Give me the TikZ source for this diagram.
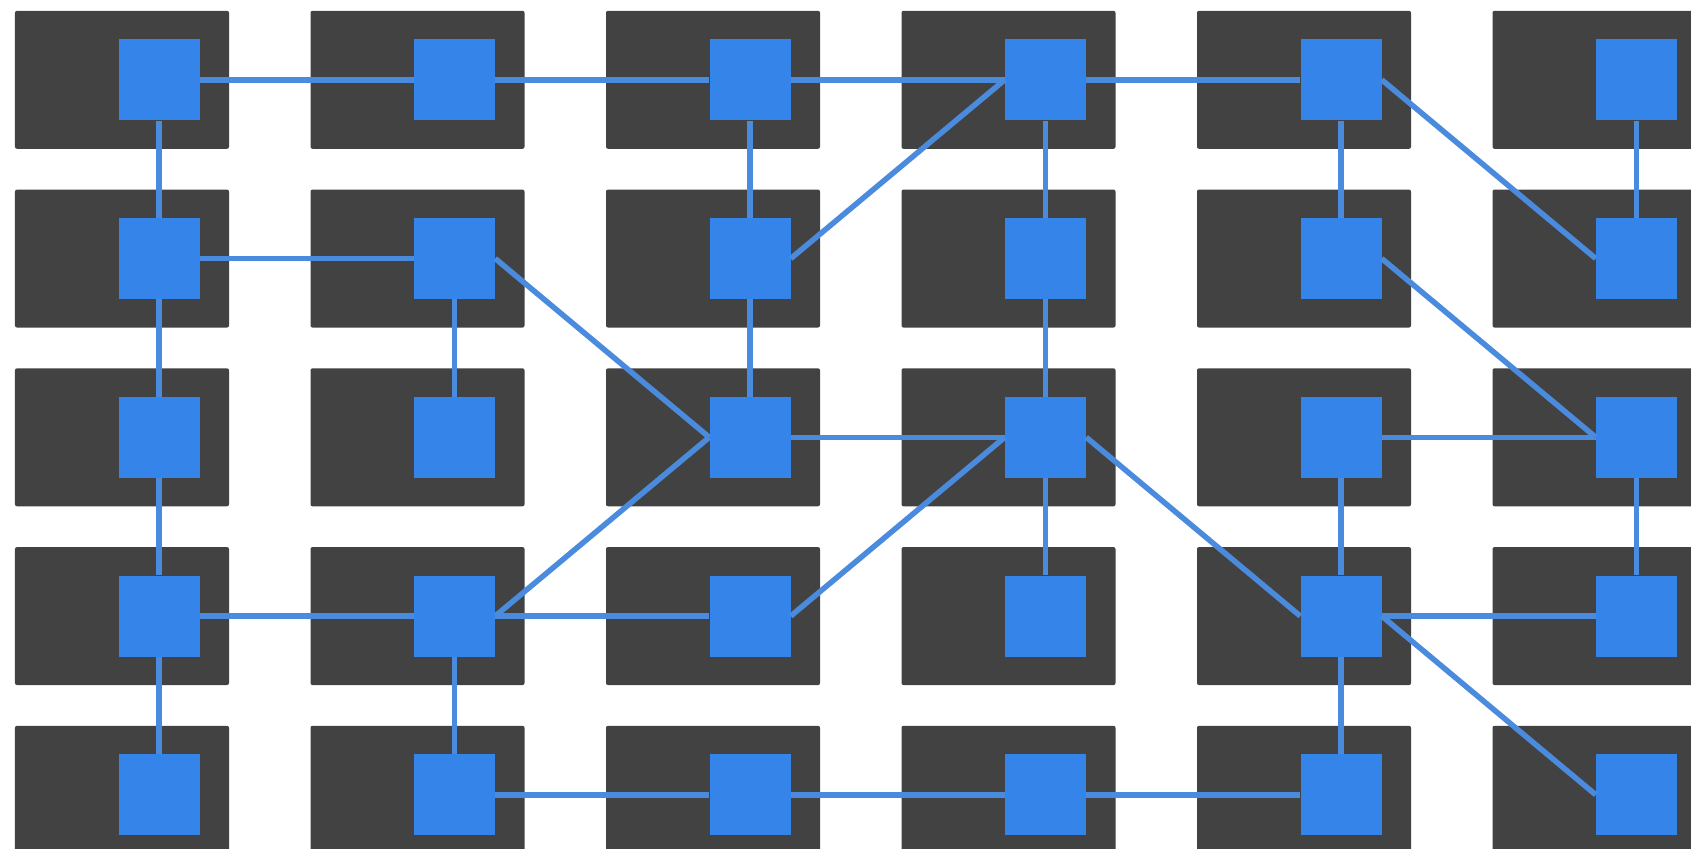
\documentclass[tikz,border=0pt]{standalone}
\definecolor{cellgray}{RGB}{66,66,66}
\definecolor{portblue}{RGB}{53,132,233}
\definecolor{linkblue}{RGB}{74,139,222}

\begin{document}
\begin{tikzpicture}
[x=0.3mm, y=-0.3mm]
\tikzstyle{cell}=[rectangle, fill=cellgray, rounded corners=0.6mm, inner sep=0mm, minimum width=64.2mm, minimum height=41.4mm]
\tikzstyle{port}=[rectangle, fill=portblue, inner sep=0mm, minimum size=24.3mm]
\tikzstyle{link}=[linkblue, line width=1.65mm]
\clip (0,0) rectangle (1691,849);

\foreach \r in {1,...,5}
  \foreach \c in {1,...,6}
  {
    \node[cell]	(R\r\c)	at ({122+295.5*(\c-1)}, {79.8+178.75*(\r-1)})	{};
    \node[port]	(S\r\c)	at ({159+295.5*(\c-1)}, {79.8+178.75*(\r-1)})	{};
  }

% rows
\draw[link]    (S11)--(S12)--(S13)--(S14)--(S15);
\draw[link]    (S21)--(S22);
\draw[link]    (S33)--(S34);
\draw[link]    (S35)--(S36);
\draw[link]    (S41)--(S42)--(S43);
\draw[link]    (S45)--(S46);
\draw[link]    (S52)--(S53)--(S54)--(S55);
% columns
\draw[link]    (S11)--(S21)--(S31)--(S41)--(S51);
\draw[link]    (S22)--(S32);
\draw[link]    (S42)--(S52);
\draw[link]    (S13)--(S23)--(S33);
\draw[link]    (S14)--(S24)--(S34)--(S44);
\draw[link]    (S15)--(S25);
\draw[link]    (S35)--(S45)--(S55);
\draw[link]    (S16)--(S26);
\draw[link]    (S36)--(S46);
% diagonals
\draw[link]    (S23.east)--(S14.west);
\draw[link]    (S15.east)--(S26.west);
\draw[link]    (S22.east)--(S33.west);
\draw[link]    (S42.east)--(S33.west);
\draw[link]    (S25.east)--(S36.west);
\draw[link]    (S43.east)--(S34.west);
\draw[link]    (S34.east)--(S45.west);
\draw[link]    (S45.east)--(S56.west);
\end{tikzpicture}
\end{document}
